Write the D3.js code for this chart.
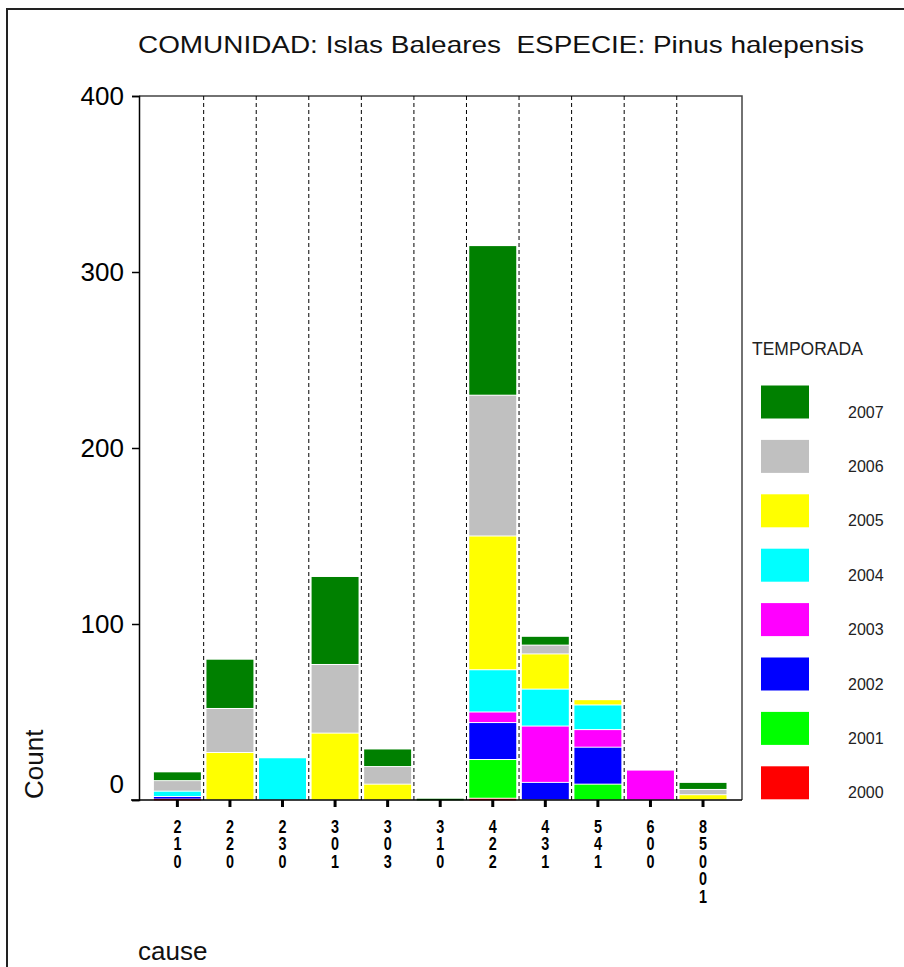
<!DOCTYPE html>
<html>
<head>
<meta charset="utf-8">
<script src="https://cdn.jsdelivr.net/npm/d3@7"></script>
<style>
  body { margin: 0; background: #fff; }
  text { font-family: "Liberation Sans", Arial, sans-serif; }
</style>
</head>
<body>
<svg id="chart" width="904" height="967"></svg>
<script>
// cause codes along the x axis
var causes = ["210", "220", "230", "301", "303", "310", "422", "431", "541", "600", "85001"];
var years = ["2000", "2001", "2002", "2003", "2004", "2005", "2006", "2007"];
var yearColors = ["#ff0000", "#00ff00", "#0000ff", "#ff00ff", "#00ffff", "#ffff00", "#c0c0c0", "#008000"];

// counts per season, one value per cause
var c2000 = [1, 0, 0, 0, 0, 0, 1, 0, 0, 0, 0];
var c2001 = [0, 0, 0, 0, 0, 0, 22, 0, 9, 0, 0];
var c2002 = [1, 0, 0, 0, 0, 0, 21, 10, 21, 0, 0];
var c2003 = [0, 0, 0, 0, 0, 0, 6, 32, 10, 17, 0];
var c2004 = [3, 0, 24, 0, 0, 0, 24, 21, 14, 0, 0];
var c2005 = [0, 27, 0, 38, 9, 0, 76, 20, 3, 0, 3];
var c2006 = [6, 25, 0, 39, 10, 0, 80, 5, 0, 0, 3];
var c2007 = [5, 28, 0, 50, 10, 1, 85, 5, 0, 0, 4];
var yTicks = [0, 100, 200, 300, 400];

var series = [c2000, c2001, c2002, c2003, c2004, c2005, c2006, c2007];
var table = causes.map(function(c, i) {
  var row = {cause: c};
  years.forEach(function(y, j) { row[y] = series[j][i]; });
  return row;
});

var svg = d3.select("#chart");

// outer box
svg.append("rect").attr("x", 7).attr("y", 9).attr("width", 920).attr("height", 990)
  .attr("fill", "none").attr("stroke", "#222").attr("stroke-width", 2);

var plotL = 139, plotR = 742, plotT = 96, plotB = 800;

var x = d3.scaleBand().domain(causes).range([151.1, 729.3]).padding(0);
var y = d3.scaleLinear().domain([0, 400]).range([plotB, plotT]);
var color = d3.scaleOrdinal().domain(years).range(yearColors);

// plot frame
svg.append("path")
  .attr("d", "M" + plotL + "," + plotT + "H" + plotR + "V" + plotB)
  .attr("fill", "none").attr("stroke", "#444").attr("stroke-width", 1.5);

// dashed separators
svg.append("g").selectAll("line")
  .data(causes.slice(1))
  .join("line")
  .attr("x1", function(d) { return x(d); })
  .attr("x2", function(d) { return x(d); })
  .attr("y1", plotT).attr("y2", plotB)
  .attr("stroke", "#000").attr("stroke-width", 1)
  .attr("stroke-dasharray", "4,3");

// stacked bars
var stack = d3.stack().keys(years)(table);
var inset = 2.8;
svg.append("g").selectAll("g")
  .data(stack)
  .join("g")
  .attr("fill", function(d) { return color(d.key); })
  .selectAll("rect")
  .data(function(d) { return d.filter(function(p) { return p[1] - p[0] > 0; }); })
  .join("rect")
  .attr("x", function(d) { return x(d.data.cause) + inset; })
  .attr("width", x.bandwidth() - inset * 2)
  .attr("y", function(d) { return y(d[1]) + 0.5; })
  .attr("height", function(d) { return Math.max(y(d[0]) - y(d[1]) - 1, 1.6); });

// y axis
var yAxis = svg.append("g")
  .attr("transform", "translate(" + plotL + ",0)")
  .call(d3.axisLeft(y).tickValues(yTicks).tickSize(7).tickPadding(8).tickFormat(d3.format("d")));
yAxis.select(".domain").attr("stroke", "#000").attr("stroke-width", 1.5);
yAxis.selectAll(".tick line").attr("stroke", "#000").attr("stroke-width", 1.5);
yAxis.selectAll(".tick text")
  .style("font-size", "26px").style("font-family", "'Liberation Sans', Arial, sans-serif").attr("fill", "#000")
  .attr("dy", function(d) { return d === 0 ? "-0.27em" : "0.32em"; });

// x axis
var xAxis = svg.append("g")
  .attr("transform", "translate(0," + plotB + ")")
  .call(d3.axisBottom(x).tickSize(7).tickFormat(""));
xAxis.select(".domain").attr("d", "M" + (plotL - 8) + ",0H" + plotR).attr("stroke", "#000").attr("stroke-width", 1.5);
xAxis.selectAll(".tick line").attr("stroke", "#000").attr("stroke-width", 3);

// stacked digit labels, squeezed sideways
var lab = svg.append("g").selectAll("text")
  .data(causes)
  .join("text")
  .attr("transform", function(d) { return "translate(" + (x(d) + x.bandwidth() / 2) + ",833) scale(0.8,1)"; })
  .attr("text-anchor", "middle")
  .style("font-weight", "bold")
  .style("font-size", "18px");
lab.selectAll("tspan")
  .data(function(d) { return d.split(""); })
  .join("tspan")
  .attr("x", 0)
  .attr("dy", function(d, i) { return i === 0 ? 0 : 17.5; })
  .text(function(d) { return d; });

// titles
svg.append("text").attr("x", 138).attr("y", 53)
  .attr("textLength", 726).attr("lengthAdjust", "spacingAndGlyphs")
  .style("font-size", "24px").style("white-space", "pre").attr("fill", "#111")
  .text("COMUNIDAD: Islas Baleares  ESPECIE: Pinus halepensis");

svg.append("text")
  .attr("transform", "translate(43,799) rotate(-90)")
  .style("font-size", "26px").attr("fill", "#111")
  .text("Count");

svg.append("text").attr("x", 138).attr("y", 960)
  .style("font-size", "26px").attr("fill", "#111")
  .text("cause");

// legend
svg.append("text").attr("x", 752).attr("y", 355)
  .style("font-size", "17.5px").attr("fill", "#222")
  .text("TEMPORADA");

var legendYears = years.slice().reverse();
var leg = svg.append("g").selectAll("g")
  .data(legendYears)
  .join("g")
  .attr("transform", function(d, i) { return "translate(761," + (385.5 + i * 54.4) + ")"; });
leg.append("rect").attr("width", 48).attr("height", 33)
  .attr("fill", function(d) { return color(d); });
leg.append("text").attr("x", 87).attr("y", 32)
  .style("font-size", "16px").attr("fill", "#222")
  .text(function(d) { return d; });
</script>
</body>
</html>
